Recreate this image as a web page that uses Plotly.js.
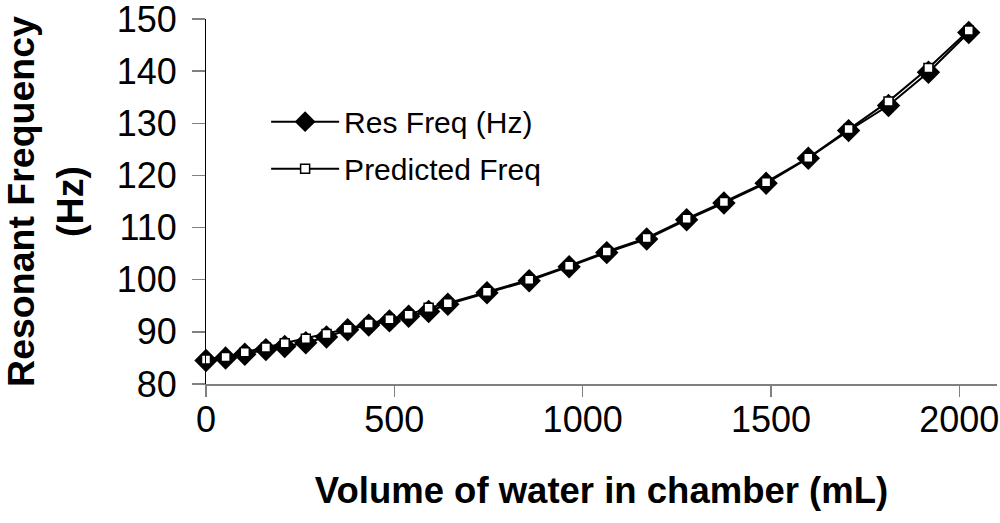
<!DOCTYPE html>
<html>
<head>
<meta charset="utf-8">
<script src="https://cdn.plot.ly/plotly-3.0.1.min.js"></script>
<style>html,body{margin:0;padding:0;background:#fff;}#chart{width:1000px;height:523px;}</style>
</head>
<body>
<div id="chart"></div>
<script>
// Volume of water in chamber (mL)
const volume = [0, 52, 103, 159, 209, 265, 320, 376, 432, 487, 538, 591, 642, 746, 858, 964, 1064, 1170, 1276, 1375, 1487, 1599, 1706, 1812, 1918, 2025];
// Measured resonant frequency (Hz)
const resFreq = [84.5, 85.0, 85.7, 86.6, 87.2, 87.9, 89.0, 90.4, 91.3, 92.1, 93.0, 93.9, 95.3, 97.5, 99.8, 102.5, 105.2, 107.8, 111.5, 114.7, 118.5, 123.3, 128.6, 133.4, 139.8, 147.4];
// Predicted frequency (Hz)
const predFreq = [84.7, 85.2, 86.1, 87.0, 87.8, 88.7, 89.6, 90.6, 91.6, 92.4, 93.3, 94.6, 95.5, 97.7, 100.0, 102.7, 105.4, 108.0, 111.7, 114.9, 118.7, 123.4, 128.9, 134.2, 140.6, 147.8];
const seriesNames = ["Res Freq (Hz)", "Predicted Freq"];
const xTicks = [0, 500, 1000, 1500, 2000];
const yTicks = [80, 90, 100, 110, 120, 130, 140, 150];

const FONT = "Liberation Sans, Arial, sans-serif";

const traces = [
  {
    x: volume, y: resFreq, name: seriesNames[0], type: "scatter", mode: "lines+markers",
    line: {color: "#000", width: 2},
    marker: {symbol: "diamond", size: 18, color: "#000", line: {width: 0}},
    legendgroup: "a", cliponaxis: false
  },
  {
    x: volume, y: predFreq, name: seriesNames[1], type: "scatter", mode: "lines+markers",
    line: {color: "#000", width: 2},
    marker: {symbol: "square", size: 9, color: "#fff", line: {width: 1.5, color: "#000"}},
    legendgroup: "b", cliponaxis: false
  }
];

const layout = {
  width: 1000, height: 523,
  margin: {l: 206, r: 3, t: 19, b: 139},
  paper_bgcolor: "#fff", plot_bgcolor: "#fff",
  font: {family: FONT, color: "#000"},
  showlegend: true,
  legend: {
    x: 0.076, y: 0.79, xanchor: "left", yanchor: "top",
    font: {family: FONT, size: 30, color: "#000"},
    bgcolor: "rgba(0,0,0,0)", borderwidth: 0,
    itemwidth: 68, traceorder: "grouped", tracegroupgap: 5
  },
  xaxis: {
    range: [0, 2100], tickvals: xTicks, ticktext: xTicks.map(String),
    showline: true, linecolor: "#808080", linewidth: 1.5,
    ticks: "outside", ticklen: 11, tickcolor: "#808080", tickwidth: 1.5,
    showgrid: false, zeroline: false,
    tickfont: {family: FONT, size: 36, color: "#000"},
    ticklabelstandoff: -8, ticklabeloverflow: "allow",
    title: {text: "<b>Volume of water in chamber (mL)</b>", font: {family: FONT, size: 36.5, color: "#000"}, standoff: 38},
    automargin: false
  },
  yaxis: {
    range: [80, 150], tickvals: yTicks, ticktext: yTicks.map(String),
    showline: true, linecolor: "#000", linewidth: 1,
    ticks: "outside", ticklen: 13, tickcolor: "#808080", tickwidth: 1.5,
    showgrid: false, zeroline: false,
    tickfont: {family: FONT, size: 36, color: "#000"},
    ticklabelstandoff: 8, ticklabeloverflow: "allow",
    title: {text: "<b>Resonant Frequency<br>(Hz)</b>", font: {family: FONT, size: 37.5, color: "#000"}, standoff: 22},
    automargin: false
  }
};

Plotly.newPlot("chart", traces, layout, {displayModeBar: false, staticPlot: true});
</script>
</body>
</html>
